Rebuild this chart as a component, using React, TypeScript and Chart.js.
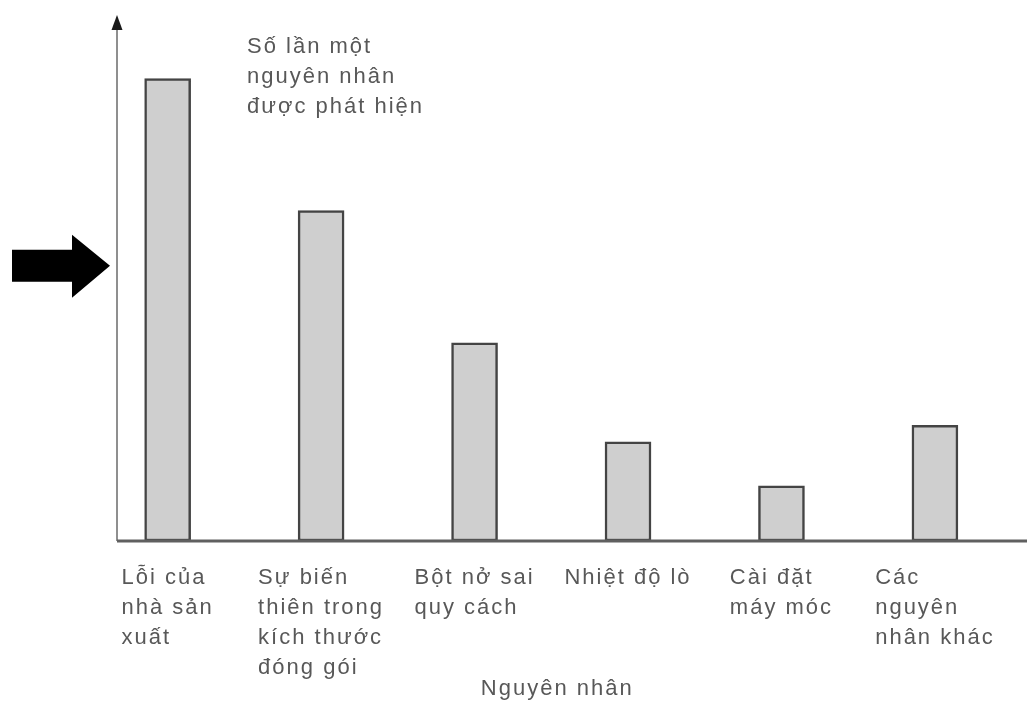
import React, { useEffect, useRef } from 'react';
import { Chart, registerables } from 'chart.js';

Chart.register(...registerables);

// ---- data ----
const categories: string[][] = [
  ['Lỗi của', 'nhà sản', 'xuất'],
  ['Sự biến', 'thiên trong', 'kích thước', 'đóng gói'],
  ['Bột nở sai', 'quy cách'],
  ['Nhiệt độ lò'],
  ['Cài đặt', 'máy móc'],
  ['Các', 'nguyên', 'nhân khác'],
];
const counts: number[] = [42, 30, 18, 9, 5, 10.5];
const yAxisTitle: string[] = ['Số lần một', 'nguyên nhân', 'được phát hiện'];
const xAxisTitle = 'Nguyên nhân';
const arrowLevel = 25;

const FONT = '22px "Liberation Sans", Arial, sans-serif';
const TEXT_COLOR = '#585858';

const decorPlugin = {
  id: 'decor',
  beforeDatasetsDraw(chart: any) {
    const { ctx, chartArea: a } = chart;
    ctx.save();
    // y axis
    ctx.strokeStyle = '#6a6a6a';
    ctx.lineWidth = 1.5;
    ctx.beginPath();
    ctx.moveTo(a.left, a.bottom);
    ctx.lineTo(a.left, a.top + 8);
    ctx.stroke();
    ctx.fillStyle = '#1a1a1a';
    ctx.beginPath();
    ctx.moveTo(a.left, a.top - 3);
    ctx.lineTo(a.left - 5.5, a.top + 12);
    ctx.lineTo(a.left + 5.5, a.top + 12);
    ctx.closePath();
    ctx.fill();
    ctx.restore();
  },
  afterDatasetsDraw(chart: any) {
    const { ctx, chartArea: a, scales } = chart;
    const xs = scales.x;
    const ys = scales.y;
    ctx.save();
    // x axis
    ctx.strokeStyle = '#606060';
    ctx.lineWidth = 3;
    ctx.beginPath();
    ctx.moveTo(a.left, a.bottom);
    ctx.lineTo(a.right, a.bottom);
    ctx.stroke();

    // black arrow pointing at the y axis
    const ay = ys.getPixelForValue(arrowLevel);
    const tip = a.left - 7;
    ctx.fillStyle = '#000';
    ctx.beginPath();
    ctx.moveTo(tip - 98, ay - 16);
    ctx.lineTo(tip - 38, ay - 16);
    ctx.lineTo(tip - 38, ay - 31);
    ctx.lineTo(tip, ay);
    ctx.lineTo(tip - 38, ay + 32);
    ctx.lineTo(tip - 38, ay + 16);
    ctx.lineTo(tip - 98, ay + 16);
    ctx.closePath();
    ctx.fill();

    // text
    ctx.font = FONT;
    (ctx as any).letterSpacing = '2px';
    ctx.fillStyle = TEXT_COLOR;
    ctx.textBaseline = 'alphabetic';
    ctx.textAlign = 'left';

    // category labels: block centred under the bar, lines left-aligned
    categories.forEach((lines, i) => {
      const cx = xs.getPixelForValue(i);
      const w = Math.max(...lines.map((l) => ctx.measureText(l).width));
      const left = cx - w / 2;
      lines.forEach((l, j) => {
        ctx.fillText(l, left, a.bottom + 43 + j * 30);
      });
    });

    // y axis title
    yAxisTitle.forEach((l, j) => {
      ctx.fillText(l, a.left + 130, a.top + 35 + j * 30);
    });

    // x axis title
    ctx.textAlign = 'center';
    ctx.fillText(xAxisTitle, xs.getPixelForValue(2.5) + 6, a.bottom + 154);
    ctx.restore();
  },
};

export default function App() {
  const ref = useRef<HTMLCanvasElement | null>(null);
  useEffect(() => {
    if (!ref.current) return;
    const chart = new Chart(ref.current, {
      type: 'bar',
      data: {
        datasets: [
          {
            data: counts.map((v, i) => ({ x: i, y: v })),
            backgroundColor: '#cfcfcf',
            borderColor: '#444444',
            borderWidth: 2.5,
            borderSkipped: false,
            barThickness: 46,
          },
        ],
      },
      options: {
        responsive: false,
        animation: false,
        devicePixelRatio: 1,
        layout: { padding: { left: 117, right: 0, top: 18, bottom: 164 } },
        plugins: { legend: { display: false }, tooltip: { enabled: false }, title: { display: false } },
        scales: {
          x: {
            type: 'linear',
            min: -0.33,
            max: 5.6,
            offset: false,
            display: false,
            ticks: { stepSize: 1, includeBounds: false },
          },
          y: { type: 'linear', min: 0, max: 47.5, display: false },
        },
      },
      plugins: [decorPlugin],
    } as any);
    return () => chart.destroy();
  }, []);
  return (
    <div style={{ position: 'fixed', left: 0, top: 0, width: 1027, height: 705, background: '#fff' }}>
      <canvas ref={ref} width={1027} height={705} style={{ display: 'block' }} />
    </div>
  );
}
